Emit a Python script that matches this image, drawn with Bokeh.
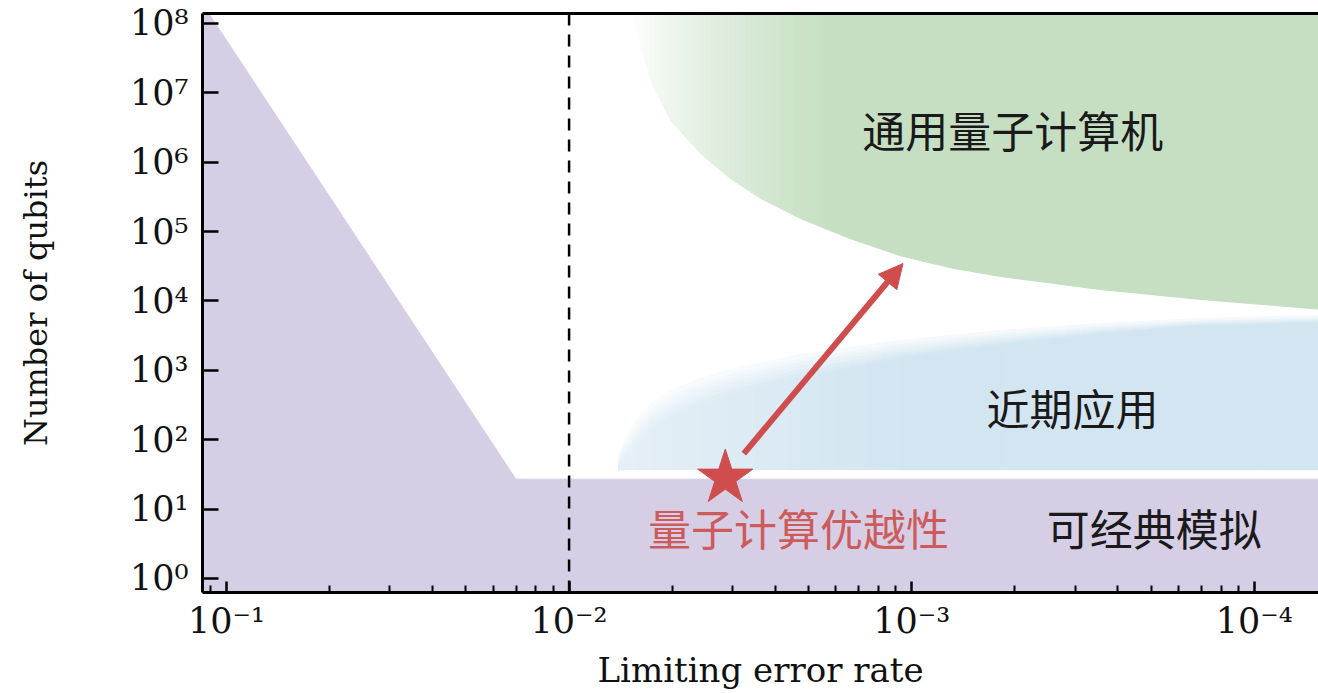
import numpy as np
from bokeh.plotting import figure
from bokeh.models import (Range1d, Span, Arrow, NormalHead, Label, FixedTicker,
                          CustomJSTickFormatter, LogAxis, ColumnDataSource)
from bokeh.embed import file_html
from bokeh.resources import INLINE

# ---------------- data (error rate, number of qubits) ----------------
# Classically simulable region (lavender): upper boundary
sim_err = [0.12, 0.1125, 0.0143, 6.2e-5]
sim_qubits = [1.38e8, 1.38e8, 27, 27]

# Near-term applications region (blue): upper boundary over a flat floor
nisq_err = [0.00717, 0.00712, 0.00684, 0.00640, 0.00578, 0.00505, 0.00413,
            0.00331, 0.00211, 0.00108, 0.00055, 0.000281, 0.000143, 6.2e-5]
nisq_top = [37, 65, 108, 189, 332, 512, 762, 1060, 1690, 2690, 3740, 4720,
            5580, 6200]
nisq_floor = 37

# Universal quantum computer region (green): lower boundary
ftqc_err = [0.00653, 0.00618, 0.00570, 0.00505, 0.00413, 0.00338, 0.00276,
            0.00211, 0.00151, 0.00108, 0.00077, 0.00055, 0.000281, 0.000143,
            6.2e-5]
ftqc_floor = [1.4e8, 4.8e7, 1.27e7, 3.97e6, 1.33e6, 5.8e5, 3.0e5, 1.54e5,
              7.9e4, 4.5e4, 3.0e4, 2.25e4, 1.46e4, 1.05e4, 7.5e3]

# Quantum supremacy point and the arrow towards universal machines
supremacy_err = 0.0035
supremacy_qubits = 28
arrow_err = [0.00309, 0.00106]
arrow_qubits = [63, 34600]

threshold_err = 0.01

x_ticks_err = [1e-1, 1e-2, 1e-3, 1e-4]
y_ticks = [1e0, 1e1, 1e2, 1e3, 1e4, 1e5, 1e6, 1e7, 1e8]

region_labels = ["通用量子计算机", "近期应用", "量子计算优越性", "可经典模拟"]
region_label_err = [5.07e-4, 3.39e-4, 2.14e-3, 1.96e-4]
region_label_qubits = [3.05e6, 301, 5.43, 5.43]
region_label_colors = ["#1a1a1a", "#1a1a1a", "#cd5b5b", "#1a1a1a"]

# ---------------- colours ----------------
PURPLE = "#d6cee5"
GREEN = (198, 223, 195)
BLUE = (211, 229, 241)
RED = "#cf4d4d"

SERIF = "DejaVu Serif"
CJK = "Noto Sans CJK SC"


def inv(e):
    return 1.0 / np.asarray(e, dtype=float)


def tint(rgb, t):
    t = float(min(max(t, 0.0), 1.0))
    return "#%02x%02x%02x" % tuple(int(round(255 - (255 - c) * t)) for c in rgb)


p = figure(width=1318, height=693, x_axis_type="log", y_axis_type="log",
           x_range=Range1d(8.51, 15400), y_range=Range1d(0.628, 1.39e8),
           output_backend="svg", toolbar_location=None,
           min_border_left=202, min_border_right=0, min_border_top=13,
           min_border_bottom=101, background_fill_color="white",
           border_fill_color="white", outline_line_color=None)
p.grid.visible = False

# ---- lavender region ----
sx = list(inv(sim_err)) + [inv(6.2e-5), inv(0.12)]
sy = list(sim_qubits) + [0.5, 0.5]
p.patch(sx, sy, fill_color=PURPLE, line_color=PURPLE, line_width=1)


def strips(err, bound, other, rgb, shade, subdiv=6, top_fade=None):
    """Vertical strips between a boundary curve and a fixed level,
    coloured with a left-to-right fade (and optional soft upper edge)."""
    lx = np.log10(inv(err))
    ly = np.log10(np.asarray(bound, dtype=float))
    lo = np.log10(other)
    xs, ys, cs = [], [], []
    for i in range(len(lx) - 1):
        for j in range(subdiv):
            s0, s1 = j / subdiv, (j + 1) / subdiv
            x0 = lx[i] + s0 * (lx[i + 1] - lx[i])
            x1 = lx[i] + s1 * (lx[i + 1] - lx[i])
            y0 = ly[i] + s0 * (ly[i + 1] - ly[i])
            y1 = ly[i] + s1 * (ly[i + 1] - ly[i])
            t = shade(0.5 * (x0 + x1))
            if top_fade is None:
                xs.append([10 ** x0, 10 ** x0, 10 ** x1, 10 ** x1])
                ys.append([10 ** lo, 10 ** y0, 10 ** y1, 10 ** lo])
                cs.append(tint(rgb, t))
            else:
                band = min(top_fade(0.5 * (x0 + x1)), 0.6 * (0.5 * (y0 + y1) - lo))
                xs.append([10 ** x0, 10 ** x0, 10 ** x1, 10 ** x1])
                ys.append([10 ** lo, 10 ** (y0 - band), 10 ** (y1 - band), 10 ** lo])
                cs.append(tint(rgb, t))
                K = 6
                for k in range(K):
                    a0 = k / K
                    a1 = (k + 1) / K
                    f = 1.0 - 0.85 * ((k + 0.5) / K)
                    xs.append([10 ** x0, 10 ** x0, 10 ** x1, 10 ** x1])
                    ys.append([10 ** (y0 - band * (1 - a0)), 10 ** (y0 - band * (1 - a1)),
                               10 ** (y1 - band * (1 - a1)), 10 ** (y1 - band * (1 - a0))])
                    cs.append(tint(rgb, t * f))
    return dict(xs=xs, ys=ys, c=cs)


def green_shade(lx):
    s = (lx - 2.185) / (2.75 - 2.185)
    s = min(max(s, 0.0), 1.0)
    return s ** 0.75


def blue_shade(lx):
    s = (lx - 2.145) / (3.0 - 2.145)
    s = min(max(s, 0.0), 1.0)
    return 0.6 + 0.4 * s


def blue_edge(lx):
    s = (lx - 2.3) / (3.8 - 2.3)
    s = min(max(s, 0.0), 1.0)
    return 0.38 - 0.28 * s


g = strips(ftqc_err, ftqc_floor, 2e8, GREEN, green_shade)
p.patches("xs", "ys", source=ColumnDataSource(g), fill_color="c",
          line_color="c", line_width=1)

b = strips(nisq_err, nisq_top, nisq_floor, BLUE, blue_shade, top_fade=blue_edge)
p.patches("xs", "ys", source=ColumnDataSource(b), fill_color="c",
          line_color="c", line_width=1)

# ---- threshold line ----
p.add_layout(Span(location=1.0 / threshold_err, dimension="height",
                  line_color="black", line_width=2.5, line_dash="12 9"))

# ---- arrow and star ----
ax = inv(arrow_err)
p.add_layout(Arrow(end=NormalHead(size=24, fill_color=RED, line_color=RED),
                   x_start=ax[0], y_start=arrow_qubits[0],
                   x_end=ax[1], y_end=arrow_qubits[1],
                   line_color=RED, line_width=6))
p.scatter(x=[1.0 / supremacy_err], y=[supremacy_qubits], marker="star",
          size=58, fill_color=RED, line_color=RED)

# ---- region labels ----
for txt, e, q, c in zip(region_labels, region_label_err, region_label_qubits,
                        region_label_colors):
    p.add_layout(Label(x=1.0 / e, y=q, text=txt, text_align="center",
                       text_baseline="middle", text_font=CJK,
                       text_font_size="43px", text_color=c))

# ---- axes ----
SUP = """
const sup = {"-": "\\u207b", "0": "\\u2070", "1": "\\u00b9", "2": "\\u00b2",
             "3": "\\u00b3", "4": "\\u2074", "5": "\\u2075", "6": "\\u2076",
             "7": "\\u2077", "8": "\\u2078", "9": "\\u2079"};
const e = SIGN * Math.round(Math.log10(tick));
return "10" + String(e).split("").map(c => sup[c]).join("");
"""

xminor = [k * 10 ** d for d in range(0, 5) for k in range(2, 10)]
xa = p.xaxis[0]
xa.ticker = FixedTicker(ticks=list(inv(x_ticks_err)), minor_ticks=xminor)
xa.formatter = CustomJSTickFormatter(code=SUP.replace("SIGN", "-1"))
xa.axis_label = "Limiting error rate"

ya = p.yaxis[0]
ya.ticker = FixedTicker(ticks=y_ticks, minor_ticks=[])
ya.formatter = CustomJSTickFormatter(code=SUP.replace("SIGN", "1"))
ya.axis_label = "Number of qubits"

for a in (xa, ya):
    a.axis_line_width = 3
    a.axis_line_color = "black"
    a.major_tick_out = 0
    a.minor_tick_out = 0
    a.major_tick_line_width = 2.5
    a.minor_tick_line_width = 2
    a.major_tick_line_color = "black"
    a.minor_tick_line_color = "black"
    a.major_label_text_font = SERIF
    a.major_label_text_font_size = "35px"
    a.major_label_text_color = "#111111"
    a.axis_label_text_font = SERIF
    a.axis_label_text_font_style = "normal"
    a.axis_label_text_color = "#111111"

xa.major_tick_in = 11
xa.minor_tick_in = 7
xa.major_label_standoff = 8
xa.axis_label_text_font_size = "34px"
xa.axis_label_standoff = 6

ya.major_tick_in = 16
ya.major_label_standoff = 14
ya.axis_label_text_font_size = "32px"
ya.axis_label_standoff = 72

# top frame line
top = LogAxis(ticker=FixedTicker(ticks=[], minor_ticks=[]),
              major_label_text_font_size="0px", axis_line_width=3,
              axis_line_color="black", major_tick_line_color=None,
              minor_tick_line_color=None, major_label_standoff=0)
p.add_layout(top, "above")

open("out.html", "w").write(file_html(p, INLINE))
